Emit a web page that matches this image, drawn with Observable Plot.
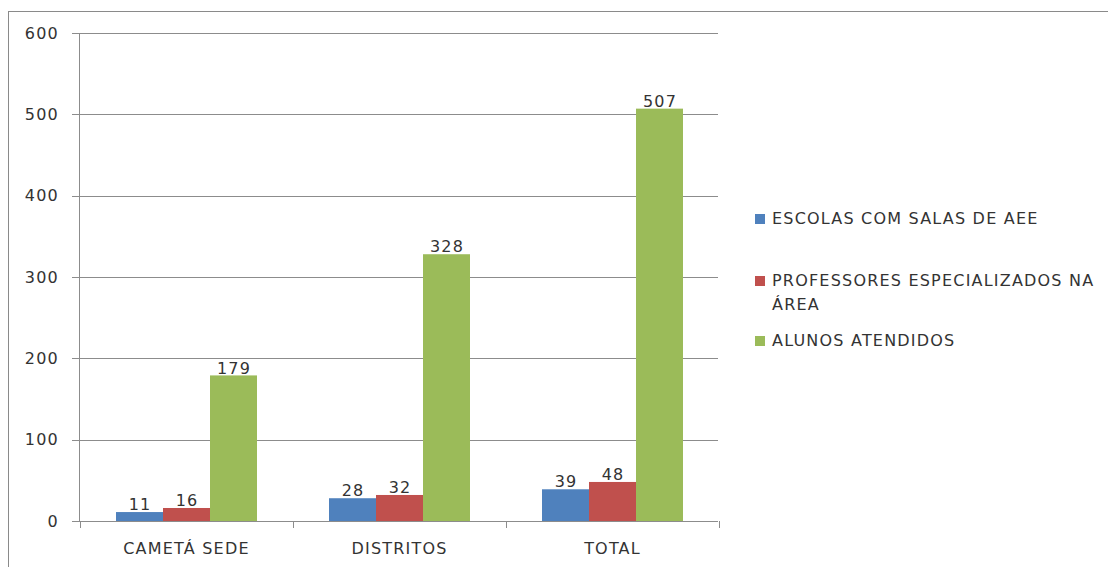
<!DOCTYPE html>
<html>
<head>
<meta charset="utf-8">
<script src="https://cdn.jsdelivr.net/npm/d3@7"></script>
<script src="https://cdn.jsdelivr.net/npm/@observablehq/plot@0.6"></script>
<style>
  html, body { margin: 0; padding: 0; background: #fff; width: 1108px; height: 567px; overflow: hidden; }
  #frame { position: absolute; left: 8px; top: 11px; width: 1200px; height: 700px;
           border-left: 1px solid #8a8a8a; border-top: 1px solid #8a8a8a; }
  #chart { position: absolute; left: 0; top: 0; }
  .legend-item { position: absolute; left: 755px; font-family: "DejaVu Sans", sans-serif; font-size: 16px;
                 letter-spacing: 1.2px; color: #333; line-height: 24px; }
  .legend-item .sw { position: absolute; left: 0; top: 7px; width: 10px; height: 10px; }
  .legend-item .lb { position: absolute; left: 17px; top: 0; white-space: nowrap; }
</style>
</head>
<body>
<div id="frame"></div>
<div id="chart"></div>
<div id="legend"></div>
<script>
const categories = ["CAMETÁ SEDE", "DISTRITOS", "TOTAL"];
const series = ["ESCOLAS COM SALAS DE AEE", "PROFESSORES ESPECIALIZADOS NA ÁREA", "ALUNOS ATENDIDOS"];
const escolas = [11, 28, 39];
const professores = [16, 32, 48];
const alunos = [179, 328, 507];
const colors = ["#4F81BD", "#C0504D", "#9BBB59"];
const yTicks = [0, 100, 200, 300, 400, 500, 600];
const legendLines = [["ESCOLAS COM SALAS DE AEE"], ["PROFESSORES ESPECIALIZADOS NA", "ÁREA"], ["ALUNOS ATENDIDOS"]];

const seriesValues = [escolas, professores, alunos];
const data = categories.flatMap((c, i) => series.map((s, j) => ({category: c, series: s, value: seriesValues[j][i]})));

const chart = Plot.plot({
  width: 740,
  height: 567,
  marginLeft: 79,
  marginRight: 22,
  marginTop: 33,
  marginBottom: 46,
  style: "font-family: 'DejaVu Sans', sans-serif; font-size: 16px; letter-spacing: 1.2px; color: #333; background: transparent; overflow: visible;",
  fx: {domain: categories, paddingInner: 1/3, paddingOuter: 1/6, label: null, axis: "bottom", tickSize: 0, tickPadding: 21},
  x: {domain: series, padding: 0, axis: null},
  y: {domain: [0, 600], axis: null},
  color: {domain: series, range: colors},
  marks: [
    Plot.barY(data, {fx: "category", x: "series", y: "value", fill: "series"}),
    Plot.text(data, {fx: "category", x: "series", y: "value", text: d => String(d.value), dy: -7.5, fill: "#333"})
  ]
});
document.getElementById("chart").appendChild(chart);

// Axes and gridlines drawn through the plot's own scales
const y = chart.scale("y");
const fx = chart.scale("fx");
const x0 = 79, x1 = 740 - 22;
const svg = d3.select(chart);
const g = svg.insert("g", ":first-child");
const gridColor = "#8c8c8c";
g.selectAll("line.grid").data(yTicks).join("line")
  .attr("x1", x0).attr("x2", x1)
  .attr("y1", d => Math.round(y.apply(d)) + 0.5).attr("y2", d => Math.round(y.apply(d)) + 0.5)
  .attr("stroke", gridColor).attr("stroke-width", 1);
g.selectAll("line.ytick").data(yTicks).join("line")
  .attr("x1", x0 - 7).attr("x2", x0)
  .attr("y1", d => Math.round(y.apply(d)) + 0.5).attr("y2", d => Math.round(y.apply(d)) + 0.5)
  .attr("stroke", gridColor);
g.append("line").attr("x1", x0 + 0.5).attr("x2", x0 + 0.5)
  .attr("y1", y.apply(600)).attr("y2", y.apply(0)).attr("stroke", gridColor);
const gap = fx.step - fx.bandwidth;
const bounds = categories.map(c => fx.apply(c) - gap / 2).concat([fx.apply(categories[categories.length - 1]) + fx.bandwidth + gap / 2]);
g.selectAll("line.xtick").data(bounds).join("line")
  .attr("x1", d => Math.round(d) + 0.5).attr("x2", d => Math.round(d) + 0.5)
  .attr("y1", y.apply(0)).attr("y2", y.apply(0) + 7)
  .attr("stroke", gridColor);
svg.append("g").selectAll("text").data(yTicks).join("text")
  .attr("x", x0 - 20).attr("y", d => y.apply(d)).attr("dy", "0.35em")
  .attr("text-anchor", "end").attr("fill", "#333")
  .text(d => String(d));

// Legend
const legend = document.getElementById("legend");
const legendTops = [207, 269, 329];
legendLines.forEach((lines, i) => {
  const item = document.createElement("div");
  item.className = "legend-item";
  item.style.top = legendTops[i] + "px";
  const sw = document.createElement("div");
  sw.className = "sw";
  sw.style.background = colors[i];
  const lb = document.createElement("div");
  lb.className = "lb";
  lb.innerHTML = lines.join("<br>");
  item.appendChild(sw);
  item.appendChild(lb);
  legend.appendChild(item);
});
</script>
</body>
</html>
